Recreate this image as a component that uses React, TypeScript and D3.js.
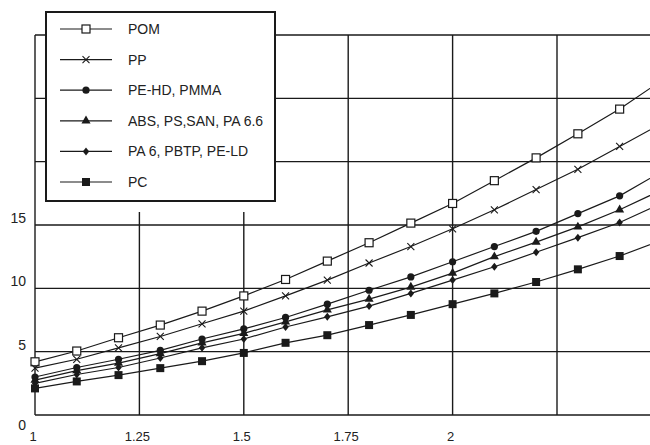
import React from "react";
import * as d3 from "d3";

// x positions of the measured points (last one lies just past the right edge)
const xValues = [1.0, 1.1, 1.2, 1.3, 1.4, 1.5, 1.6, 1.7, 1.8, 1.9, 2.0, 2.1, 2.2, 2.3, 2.4, 2.5];

const pom = [4.2, 5.05, 6.1, 7.1, 8.2, 9.4, 10.7, 12.15, 13.6, 15.15, 16.7, 18.5, 20.3, 22.2, 24.15, 26.4];
const pp = [3.7, 4.4, 5.3, 6.2, 7.2, 8.2, 9.4, 10.65, 12.0, 13.3, 14.7, 16.2, 17.8, 19.4, 21.2, 23.0];
const pehd = [3.0, 3.75, 4.4, 5.1, 6.0, 6.8, 7.7, 8.75, 9.85, 10.9, 12.1, 13.3, 14.5, 15.9, 17.3, 19.2];
const abs = [2.75, 3.5, 4.1, 4.85, 5.7, 6.45, 7.35, 8.3, 9.15, 10.1, 11.2, 12.5, 13.65, 14.85, 16.2, 17.75];
const pa6 = [2.5, 3.2, 3.75, 4.5, 5.3, 6.0, 6.95, 7.75, 8.6, 9.6, 10.65, 11.7, 12.85, 14.0, 15.2, 16.7];
const pc = [2.1, 2.65, 3.15, 3.7, 4.25, 4.9, 5.7, 6.3, 7.1, 7.9, 8.75, 9.6, 10.5, 11.5, 12.55, 13.8];

const seriesNames = ["POM", "PP", "PE-HD, PMMA", "ABS, PS,SAN, PA 6.6", "PA 6, PBTP, PE-LD", "PC"];
const markerKinds = ["openSquare", "cross", "circle", "triangle", "diamond", "square"];

const xTicks = [1, 1.25, 1.5, 1.75, 2];
const xGrid = [1, 1.25, 1.5, 1.75, 2, 2.25];
const yTicks = [0, 5, 10, 15];
const yGrid = [0, 5, 10, 15, 20, 25, 30];

const W = 650;
const H = 445;
const ink = "#1a1a1a";
const font = "'Liberation Sans', Arial, Helvetica, sans-serif";

function drawMarker(g: any, kind: string, x: number, y: number) {
  if (kind === "openSquare") {
    g.append("rect").attr("x", x - 4).attr("y", y - 4).attr("width", 8).attr("height", 8)
      .attr("fill", "white").attr("stroke", ink).attr("stroke-width", 1.2);
  } else if (kind === "cross") {
    g.append("path").attr("d", `M${x - 3.5},${y - 3.5}L${x + 3.5},${y + 3.5}M${x - 3.5},${y + 3.5}L${x + 3.5},${y - 3.5}`)
      .attr("stroke", ink).attr("stroke-width", 1.1).attr("fill", "none");
  } else if (kind === "circle") {
    g.append("circle").attr("cx", x).attr("cy", y).attr("r", 3.6).attr("fill", ink);
  } else if (kind === "triangle") {
    g.append("path").attr("d", d3.symbol(d3.symbolTriangle, 36)()).attr("transform", `translate(${x},${y})`).attr("fill", ink);
  } else if (kind === "diamond") {
    g.append("path").attr("d", `M${x},${y - 4}L${x + 3.2},${y}L${x},${y + 4}L${x - 3.2},${y}Z`).attr("fill", ink);
  } else {
    g.append("rect").attr("x", x - 4).attr("y", y - 4).attr("width", 8).attr("height", 8).attr("fill", ink);
  }
}

function drawChart(node: SVGSVGElement) {
  const svg = d3.select(node);
  svg.selectAll("*").remove();

  const x = d3.scaleLinear().domain([1, 2.25]).range([35, 557]);
  const y = d3.scaleLinear().domain([0, 30]).range([415, 35]);

  svg.append("defs").append("clipPath").attr("id", "plotclip")
    .append("rect").attr("x", 0).attr("y", 0).attr("width", W).attr("height", H);

  // grid
  const grid = svg.append("g").attr("stroke", ink).attr("stroke-width", 1.4);
  grid.selectAll("line.h").data(yGrid).enter().append("line")
    .attr("x1", x(1)).attr("x2", W).attr("y1", d => y(d)).attr("y2", d => y(d));
  grid.selectAll("line.v").data(xGrid).enter().append("line")
    .attr("x1", d => x(d)).attr("x2", d => x(d)).attr("y1", y(30)).attr("y2", y(0));

  // series
  const all = [pom, pp, pehd, abs, pa6, pc];
  const line = d3.line<number>().x((_, i) => x(xValues[i])).y(d => y(d));
  const plot = svg.append("g").attr("clip-path", "url(#plotclip)");
  all.forEach(vals => {
    plot.append("path").datum(vals).attr("d", line).attr("fill", "none")
      .attr("stroke", ink).attr("stroke-width", 1.2);
  });
  all.forEach((vals, k) => {
    vals.forEach((v, i) => {
      if (x(xValues[i]) < W) drawMarker(plot, markerKinds[k], x(xValues[i]), y(v));
    });
  });

  // tick labels
  const labels = svg.append("g").attr("font-family", font).attr("font-size", 14).attr("fill", "#222");
  labels.selectAll("text.y").data(yTicks).enter().append("text")
    .attr("x", 26).attr("y", d => d === 0 ? y(d) + 15 : y(d) - 2)
    .attr("text-anchor", "end").text(d => String(d));
  labels.selectAll("text.x").data(xTicks).enter().append("text")
    .attr("x", d => x(d) - 2).attr("y", 441).attr("font-size", 13)
    .attr("text-anchor", "middle").text(d => String(d));

  // legend
  const lg = svg.append("g");
  lg.append("rect").attr("x", 46).attr("y", 12).attr("width", 229).attr("height", 200).attr("fill", "white");
  lg.append("rect").attr("x", 46).attr("y", 12).attr("width", 229).attr("height", 189)
    .attr("fill", "white").attr("stroke", ink).attr("stroke-width", 2);
  seriesNames.forEach((name, k) => {
    const ly = 29 + k * 30.6;
    lg.append("line").attr("x1", 60).attr("x2", 112).attr("y1", ly).attr("y2", ly)
      .attr("stroke", ink).attr("stroke-width", 1.2);
    drawMarker(lg, markerKinds[k], 86, ly);
    lg.append("text").attr("x", 128).attr("y", ly + 5).attr("font-family", font)
      .attr("font-size", 14).attr("fill", "#222").text(name);
  });
}

export default function App() {
  const ref = React.useRef<SVGSVGElement>(null);
  React.useEffect(() => {
    if (ref.current) drawChart(ref.current);
  }, []);
  return (
    <svg ref={ref} width={W} height={H}
      style={{ position: "absolute", left: 0, top: 0, background: "white" }} />
  );
}
